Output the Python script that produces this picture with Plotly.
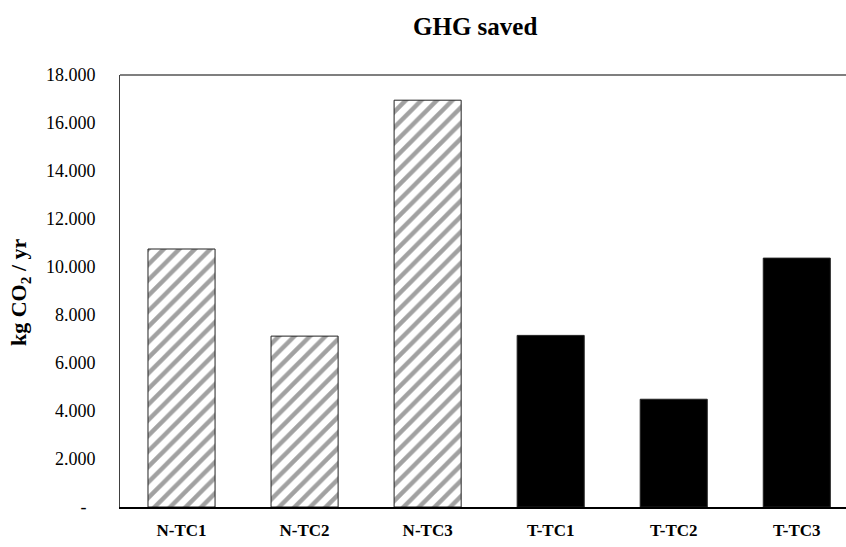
import plotly.graph_objects as go

categories = ["N-TC1", "N-TC2", "N-TC3", "T-TC1", "T-TC2", "T-TC3"]
values = [10750, 7120, 16950, 7150, 4490, 10370]
patterns = ["/", "/", "/", "", "", ""]
colors = ["white", "white", "white", "black", "black", "black"]
tick_vals = [0, 2000, 4000, 6000, 8000, 10000, 12000, 14000, 16000, 18000]
tick_text = ["-\u00a0\u00a0", "2.000", "4.000", "6.000", "8.000", "10.000",
             "12.000", "14.000", "16.000", "18.000"]

W, H = 846, 547
L, R, T, B = 120, 0, 75, 40
FONT = "Liberation Serif"

fig = go.Figure()
fig.add_trace(go.Bar(
    x=categories, y=values,
    marker=dict(
        color=colors,
        line=dict(color="#222222", width=1),
        pattern=dict(shape=patterns, fgcolor="#8a8a8a", bgcolor="white",
                     size=11, solidity=0.4),
    ),
))

fig.update_layout(
    width=W, height=H,
    margin=dict(l=L, r=R, t=T, b=B, pad=0),
    paper_bgcolor="white", plot_bgcolor="white",
    bargap=0.455,
    showlegend=False,
    font=dict(family=FONT, color="black"),
)
fig.update_xaxes(
    range=[-0.5, 5.4],
    showline=True, linecolor="black", linewidth=2,
    showgrid=False, ticks="", ticklabelstandoff=7,
    tickfont=dict(family=FONT, size=17, color="black", weight="bold"),
)
fig.update_yaxes(
    range=[0, 18000],
    tickvals=tick_vals, ticktext=tick_text,
    showline=True, linecolor="#404040", linewidth=1,
    showgrid=False, zeroline=False, ticks="", ticklabelstandoff=20,
    tickfont=dict(family=FONT, size=18, color="black"),
)
fig.add_shape(type="line", xref="paper", yref="paper", x0=0, x1=1, y0=1, y1=1,
              line=dict(color="#555555", width=1.5))

pw = W - L - R
ph = H - T - B
fig.add_annotation(
    text="<b>GHG saved</b>", xref="paper", yref="paper",
    x=(475 - L) / pw, y=1 + (T - 27) / ph,
    showarrow=False, xanchor="center", yanchor="middle",
    font=dict(family=FONT, size=25, color="black"),
)
fig.add_annotation(
    text="<b>kg CO<sub>2</sub> / yr</b>", xref="paper", yref="paper",
    x=(20 - L) / pw, y=(H - B - 292) / ph,
    textangle=-90, showarrow=False, xanchor="center", yanchor="middle",
    font=dict(family=FONT, size=22, color="black"),
)

fig.write_html("out.html")
